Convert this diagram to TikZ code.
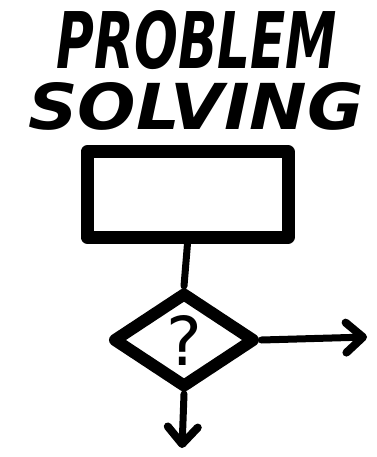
\documentclass[tikz,border=0pt]{standalone}
\usepackage{fontspec}
\usepackage{graphicx}
\usetikzlibrary{shapes.geometric,arrows.meta}
\newfontfamily\titlefont{DejaVu Sans}
\begin{document}
\begin{tikzpicture}[x=1pt,y=-1pt,>={Straight Barb[length=17pt,width=30pt,line width=8pt 0 0,round]},
  titletext/.style={inner sep=0pt, font=\titlefont\bfseries\itshape},
  processbox/.style={draw, line width=13pt, line join=round, minimum width=201pt, minimum height=85pt, inner sep=0pt},
  decisionbox/.style={draw, diamond, line width=12pt, line join=round, minimum width=143pt, minimum height=96pt, inner sep=0pt},
  flowline/.style={line width=7pt, line cap=round}]
\useasboundingbox (0,0) rectangle (376,457);
\node[titletext] (problem) at (197,40) {\resizebox{280pt}{58pt}{PROBLEM}};
\node[titletext] (solving) at (196,106) {\resizebox{335pt}{47pt}{SOLVING}};
\node[processbox] (box) at (187.5,194.5) {};
\node[decisionbox] (decision) at (184,340) {\resizebox{!}{50pt}{\titlefont ?}};
\coordinate (yesend) at (367,337);
\coordinate (noend) at (182,448);
\draw[flowline] (box.south) -- (decision.north);
\draw[flowline,->] (decision.east) -- (yesend);
\draw[flowline,->] (decision.south) -- (noend);
\end{tikzpicture}
\end{document}
